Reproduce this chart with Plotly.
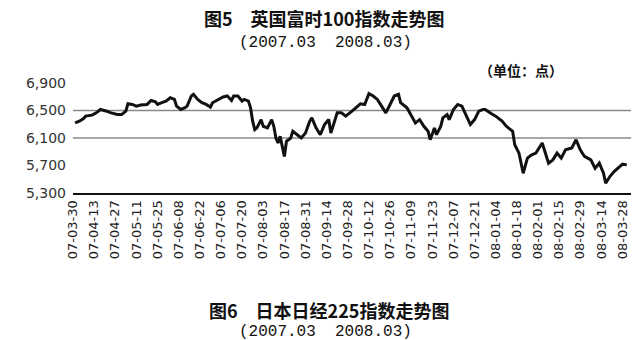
import plotly.graph_objects as go

# ---- data ----
# trading-day index (0 = 07-03-30, one label every 10 trading days)
day_index = [1, 3, 5, 6, 9, 11, 13, 15, 16, 18, 20, 21, 23, 25, 26, 28, 30, 32, 35, 37,
             39, 40, 42, 44, 46, 48, 49, 51, 53, 54, 56, 57, 59, 61, 63, 65, 66, 69, 71, 73,
             75, 76, 78, 80, 81, 83, 84, 85, 86, 87, 89, 90, 92, 94, 95, 96, 97, 98, 100, 101,
             103, 104, 106, 108, 110, 112, 113, 115, 117, 119, 121, 122, 124, 125, 127, 129, 132, 134, 136, 138,
             140, 142, 144, 146, 148, 150, 152, 154, 155, 158, 160, 162, 164, 166, 168, 169, 171, 172, 174, 175,
             177, 178, 180, 182, 184, 186, 188, 190, 192, 194, 195, 198, 200, 203, 205, 208, 209, 211, 213, 215,
             217, 219, 222, 223, 225, 227, 229, 231, 233, 236, 238, 240, 242, 245, 247, 249, 251, 252, 254, 256,
             259, 260, 262]
ftse_values = [6320, 6345, 6383, 6418, 6432, 6466, 6515, 6505, 6490, 6466, 6452, 6441, 6441, 6490, 6598, 6588, 6564, 6579, 6588, 6646,
               6627, 6588, 6613, 6637, 6686, 6661, 6564, 6515, 6540, 6564, 6711, 6735, 6661, 6613, 6588, 6550, 6613, 6661, 6696, 6711,
               6646, 6711, 6711, 6637, 6661, 6637, 6540, 6345, 6222, 6247, 6368, 6271, 6247, 6368, 6271, 6100, 6027, 6125, 5832, 6052,
               6100, 6198, 6148, 6100, 6173, 6345, 6393, 6247, 6148, 6295, 6368, 6173, 6368, 6466, 6466, 6418, 6490, 6540, 6598, 6588,
               6745, 6711, 6661, 6564, 6466, 6588, 6711, 6735, 6613, 6540, 6418, 6320, 6368, 6271, 6198, 6075, 6247, 6148, 6271, 6393,
               6441, 6368, 6515, 6588, 6564, 6441, 6295, 6368, 6490, 6515, 6515, 6452, 6418, 6345, 6271, 6198, 6002, 5880, 5587, 5807,
               5855, 5880, 6027, 5929, 5734, 5782, 5880, 5807, 5929, 5954, 6075, 5929, 5832, 5782, 5661, 5734, 5587, 5441, 5539, 5612,
               5685, 5719, 5709]

tick_positions = [0, 10, 20, 30, 40, 50, 60, 70, 80, 90, 100, 110, 120, 130, 140, 150, 160,
                  170, 180, 190, 200, 210, 220, 230, 240, 250, 260]
tick_labels = ["07-03-30", "07-04-13", "07-04-27", "07-05-11", "07-05-25", "07-06-08", "07-06-22",
               "07-07-06", "07-07-20", "07-08-03", "07-08-17", "07-08-31", "07-09-14", "07-09-28",
               "07-10-12", "07-10-26", "07-11-09", "07-11-23", "07-12-07", "07-12-21", "08-01-04",
               "08-01-18", "08-02-01", "08-02-15", "08-02-29", "08-03-14", "08-03-28"]
y_ticks = [6900, 6500, 6100, 5700, 5300]
y_tick_labels = ["6,900", "6,500", "6,100", "5,700", "5,300"]
grid_values = [6500, 6100]

fig = go.Figure()
fig.add_trace(go.Scatter(x=day_index, y=ftse_values, mode="lines",
                         line=dict(color="#111111", width=3), hoverinfo="skip"))

for g in grid_values:
    fig.add_shape(type="line", xref="paper", x0=0, x1=1, yref="y", y0=g, y1=g,
                  line=dict(color="#8a8a8a", width=1.5), layer="below")

cjk = "Noto Sans CJK SC"
fig.update_layout(
    width=637, height=340,
    margin=dict(l=73, r=6, t=83, b=147),
    paper_bgcolor="white", plot_bgcolor="white",
    showlegend=False,
    xaxis=dict(range=[0, 264], tickmode="array", tickvals=tick_positions, ticktext=tick_labels,
               tickangle=-90, showgrid=False, zeroline=False, showline=True,
               linecolor="#111111", linewidth=2, ticks="",
               tickfont=dict(family="DejaVu Sans", size=13, color="#222222")),
    yaxis=dict(range=[5300, 6900], tickmode="array", tickvals=y_ticks, ticktext=y_tick_labels,
               showgrid=False, zeroline=False, showline=False, ticks="",
               ticklabelstandoff=6,
               tickfont=dict(family="DejaVu Sans", size=14, color="#333333")),
    annotations=[
        dict(text="<b>图5　英国富时100指数走势图</b>", x=0.45, y=1.591, xref="paper", yref="paper",
             xanchor="center", yanchor="middle", showarrow=False,
             font=dict(family=cjk, size=18, color="#111111")),
        dict(text="(2007.03  2008.03)", x=0.453, y=1.364, xref="paper", yref="paper",
             xanchor="center", yanchor="middle", showarrow=False,
             font=dict(family="Liberation Mono", size=16, color="#111111")),
        dict(text="<b>（单位：点）</b>", x=0.803, y=1.118, xref="paper", yref="paper",
             xanchor="center", yanchor="middle", showarrow=False,
             font=dict(family=cjk, size=14, color="#111111")),
        dict(text="<b>图6　日本日经225指数走势图</b>", x=0.459, y=-1.064, xref="paper", yref="paper",
             xanchor="center", yanchor="middle", showarrow=False,
             font=dict(family=cjk, size=18, color="#111111")),
        dict(text="(2007.03  2008.03)", x=0.453, y=-1.264, xref="paper", yref="paper",
             xanchor="center", yanchor="middle", showarrow=False,
             font=dict(family="Liberation Mono", size=16, color="#111111")),
    ],
)

fig.write_html("out.html")
